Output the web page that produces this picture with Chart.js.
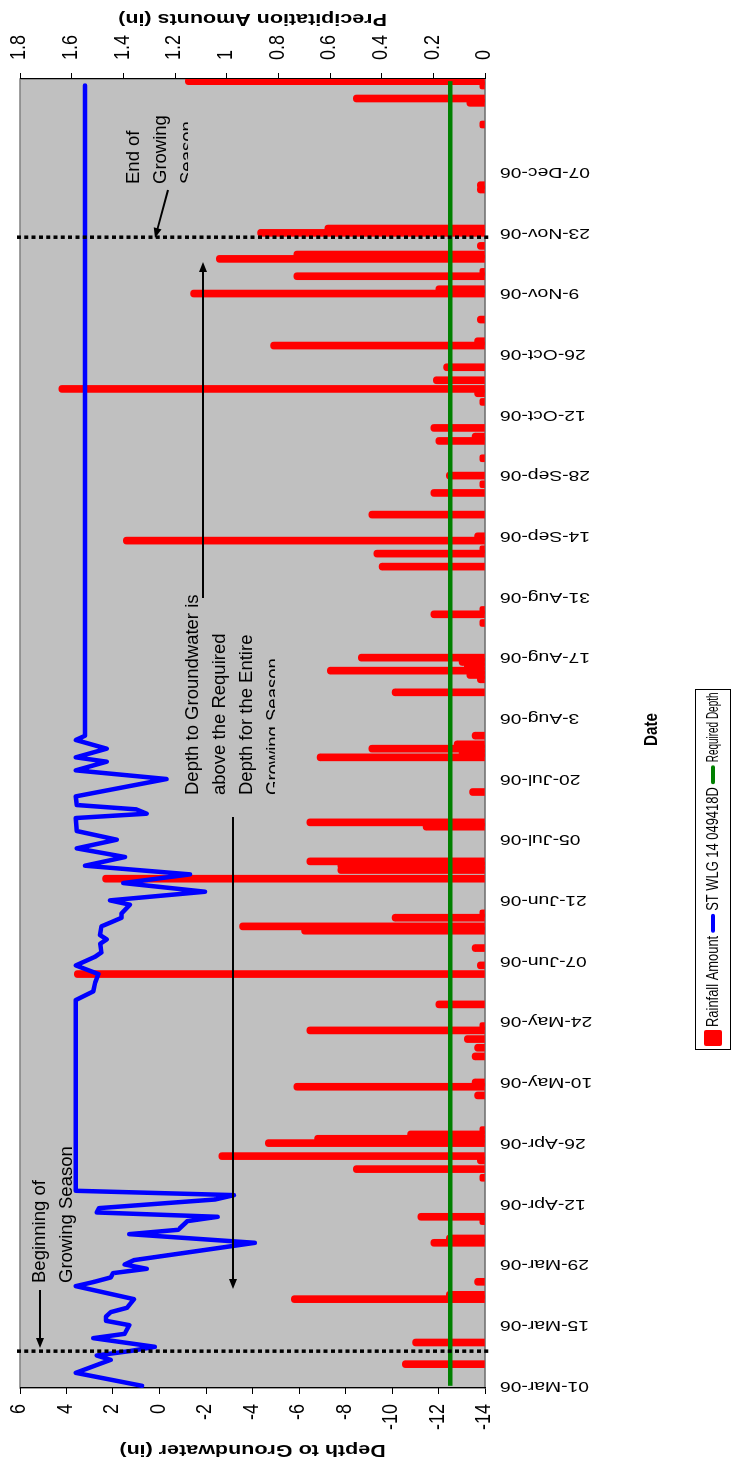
<!DOCTYPE html>
<html>
<head>
<meta charset="utf-8">
<title>ST WLG 14 - Depth to Groundwater and Rainfall 2006</title>
<script src="https://cdn.jsdelivr.net/npm/chart.js@4.4.1/dist/chart.umd.min.js"></script>
<style>
    html, body { margin: 0; padding: 0; background: #fff; overflow: hidden; }
    /* the chart is laid out landscape and turned a quarter turn to fit the page */
    #wrap { position: absolute; left: 0; top: 0; width: 1472px; height: 732px;
            transform-origin: 0 0; transform: translateY(1472px) rotate(-90deg); }
    #gwChart { display: block; }
</style>
</head>
<body>
<div id="wrap"><canvas id="gwChart" width="1472" height="732"></canvas></div>
<script>
var FONT = '"Liberation Sans", Arial, sans-serif';

// daily categories, no record for 13-Jul
var lastDay = '28-Dec-06';
var missingDay = '13-Jul-06';
var tickEvery = 14;
var tickLabels = ['01-Mar-06', '15-Mar-06', '29-Mar-06', '12-Apr-06', '26-Apr-06', '10-May-06',
    '24-May-06', '07-Jun-06', '21-Jun-06', '05-Jul-06', '20-Jul-06', '3-Aug-06', '17-Aug-06',
    '31-Aug-06', '14-Sep-06', '28-Sep-06', '12-Oct-06', '26-Oct-06', '9-Nov-06', '23-Nov-06', '07-Dec-06'];

// rainfall (in)
var rainDates = ['06-Mar-06', '11-Mar-06', '21-Mar-06', '22-Mar-06', '25-Mar-06',
    '03-Apr-06', '04-Apr-06', '08-Apr-06', '09-Apr-06', '18-Apr-06', '20-Apr-06', '22-Apr-06',
    '23-Apr-06', '26-Apr-06', '27-Apr-06', '28-Apr-06', '29-Apr-06',
    '07-May-06', '09-May-06', '10-May-06', '16-May-06', '18-May-06', '20-May-06', '22-May-06',
    '23-May-06', '28-May-06',
    '04-Jun-06', '06-Jun-06', '10-Jun-06', '14-Jun-06', '15-Jun-06', '17-Jun-06', '18-Jun-06',
    '26-Jun-06', '28-Jun-06', '29-Jun-06', '30-Jun-06',
    '08-Jul-06', '09-Jul-06', '17-Jul-06', '25-Jul-06', '26-Jul-06', '27-Jul-06', '28-Jul-06', '30-Jul-06',
    '09-Aug-06', '12-Aug-06', '13-Aug-06', '14-Aug-06', '15-Aug-06', '16-Aug-06', '17-Aug-06',
    '25-Aug-06', '27-Aug-06', '28-Aug-06',
    '07-Sep-06', '10-Sep-06', '11-Sep-06', '13-Sep-06', '14-Sep-06', '19-Sep-06', '24-Sep-06',
    '26-Sep-06', '28-Sep-06',
    '02-Oct-06', '06-Oct-06', '07-Oct-06', '09-Oct-06', '15-Oct-06', '17-Oct-06', '18-Oct-06',
    '20-Oct-06', '23-Oct-06', '28-Oct-06', '29-Oct-06',
    '03-Nov-06', '09-Nov-06', '10-Nov-06', '13-Nov-06', '14-Nov-06', '17-Nov-06', '18-Nov-06',
    '20-Nov-06', '23-Nov-06', '24-Nov-06',
    '03-Dec-06', '04-Dec-06', '18-Dec-06', '23-Dec-06', '24-Dec-06', '27-Dec-06', '28-Dec-06'];
var rainAmounts = [0.32, 0.28, 0.75, 0.15, 0.04,
    0.21, 0.15, 0.02, 0.26, 0.02, 0.51, 0.03,
    1.03, 0.85, 0.66, 0.30, 0.02,
    0.04, 0.74, 0.05, 0.05, 0.04, 0.08, 0.69,
    0.02, 0.19,
    1.59, 0.03, 0.05, 0.71, 0.95, 0.36, 0.02,
    1.48, 0.57, 0.57, 0.69,
    0.24, 0.69, 0.06, 0.65, 0.10, 0.45, 0.12, 0.05,
    0.36, 0.03, 0.07, 0.61, 0.08, 0.10, 0.49,
    0.02, 0.21, 0.02,
    0.41, 0.43, 0.02, 1.40, 0.04, 0.45, 0.21,
    0.02, 0.15,
    0.02, 0.19, 0.05, 0.21, 0.02, 0.04, 1.65,
    0.20, 0.16, 0.83, 0.04,
    0.03, 1.14, 0.19, 0.74, 0.02, 1.04, 0.74,
    0.03, 0.88, 0.62,
    0.03, 0.03, 0.02, 0.07, 0.51, 0.02, 1.16];

// well readings, depth to groundwater (in)
var gwDates = ['01-Mar-06', '04-Mar-06', '06-Mar-06', '07-Mar-06', '08-Mar-06', '09-Mar-06',
    '10-Mar-06', '12-Mar-06', '13-Mar-06', '15-Mar-06', '16-Mar-06', '17-Mar-06', '18-Mar-06',
    '19-Mar-06', '21-Mar-06', '24-Mar-06', '25-Mar-06', '26-Mar-06', '27-Mar-06', '28-Mar-06',
    '29-Mar-06', '30-Mar-06', '03-Apr-06', '05-Apr-06', '06-Apr-06', '08-Apr-06', '09-Apr-06',
    '10-Apr-06', '11-Apr-06', '13-Apr-06', '14-Apr-06', '15-Apr-06',
    '29-May-06', '31-May-06', '02-Jun-06', '04-Jun-06', '06-Jun-06', '08-Jun-06', '09-Jun-06',
    '11-Jun-06', '12-Jun-06', '13-Jun-06', '15-Jun-06', '16-Jun-06', '17-Jun-06', '18-Jun-06',
    '20-Jun-06', '21-Jun-06', '23-Jun-06', '25-Jun-06', '27-Jun-06', '29-Jun-06',
    '01-Jul-06', '03-Jul-06', '05-Jul-06', '07-Jul-06', '10-Jul-06', '11-Jul-06', '12-Jul-06',
    '14-Jul-06', '16-Jul-06', '20-Jul-06', '22-Jul-06', '24-Jul-06', '25-Jul-06', '27-Jul-06',
    '29-Jul-06', '30-Jul-06', '27-Dec-06'];
var gwDepths = [0.75, 3.6, 2.6, 2.1, 2.7, 1.3,
    0.2, 2.85, 1.5, 1.3, 2.3, 2.3, 2.1,
    1.4, 1.1, 3.6, 2.8, 2.1, 2.0, 0.55,
    1.5, 1.1, -4.1, 1.3, -0.8, -1.2, -2.5,
    2.7, 2.6, -2.4, -3.2, 3.6,
    3.6, 2.85, 2.77, 2.63, 3.6, 2.77, 2.5,
    2.55, 2.27, 2.56, 2.5, 2.06, 1.63, 1.63,
    1.27, 2.13, -1.96, 1.56, -1.31, 3.2,
    1.48, 3.56, 1.84, 3.56, 3.6, 0.55, 1.0,
    3.56, 3.6, -0.3, 3.6, 2.27, 3.6, 2.27,
    3.6, 3.2, 3.2];

var requiredDepth = -12.5;
var seasonStart = '09-Mar-06';
var seasonEnd = '22-Nov-06';

var monthNames = ['Jan', 'Feb', 'Mar', 'Apr', 'May', 'Jun', 'Jul', 'Aug', 'Sep', 'Oct', 'Nov', 'Dec'];
function dayLabel(d) {
    var dd = d.getUTCDate();
    return (dd < 10 ? '0' : '') + dd + '-' + monthNames[d.getUTCMonth()] + '-06';
}
var dates = [];
var day = new Date(Date.UTC(2006, 2, 1));
while (true) {
    var s = dayLabel(day);
    if (s !== missingDay) dates.push(s);
    if (s === lastDay) break;
    day.setUTCDate(day.getUTCDate() + 1);
}

function pairs(xs, ys) {
    return xs.map(function (x, i) { return { x: x, y: ys[i] }; });
}

// text squeezed or widened along one direction
function drawText(ctx, text, x, y, rot, sx, sy, maxWidth) {
    ctx.save();
    ctx.translate(x, y);
    if (rot) ctx.rotate(rot);
    ctx.scale(sx, sy);
    if (maxWidth) ctx.fillText(text, 0, 0, maxWidth / sx);
    else ctx.fillText(text, 0, 0);
    ctx.restore();
}

function drawArrow(ctx, x1, y1, x2, y2) {
    var ang = Math.atan2(y2 - y1, x2 - x1);
    var len = 10, half = 4;
    ctx.beginPath();
    ctx.moveTo(x1, y1);
    ctx.lineTo(x2 - Math.cos(ang) * len * 0.8, y2 - Math.sin(ang) * len * 0.8);
    ctx.stroke();
    ctx.beginPath();
    ctx.moveTo(x2, y2);
    ctx.lineTo(x2 - Math.cos(ang) * len - Math.sin(ang) * half, y2 - Math.sin(ang) * len + Math.cos(ang) * half);
    ctx.lineTo(x2 - Math.cos(ang) * len + Math.sin(ang) * half, y2 - Math.sin(ang) * len - Math.cos(ang) * half);
    ctx.closePath();
    ctx.fill();
}

var notes = [
    { lines: ['Beginning of', 'Growing Season'], x: 189, y: 40, clipBottom: null },
    { lines: ['End of', 'Growing', 'Season'], x: 1288, y: 134, clipBottom: 188 },
    { lines: ['Depth to Groundwater is', 'above the Required', 'Depth for the Entire', 'Growing Season'],
      x: 677, y: 193, clipBottom: 275 }
];
var arrows = [
    [182, 40, 124, 40],
    [1282, 168, 1234, 155],
    [655, 233, 183, 233],
    [874, 203, 1210, 203]
];

var plotBackground = {
    id: 'plotBackground',
    beforeDraw: function (chart) {
        var a = chart.chartArea, ctx = chart.ctx;
        ctx.save();
        ctx.fillStyle = '#c0c0c0';
        ctx.fillRect(a.left, a.top, a.right - a.left, a.bottom - a.top);
        ctx.strokeStyle = '#808080';
        ctx.lineWidth = 1.5;
        ctx.strokeRect(a.left, a.top, a.right - a.left, a.bottom - a.top);
        ctx.restore();
    }
};

var overlay = {
    id: 'overlay',
    afterDatasetsDraw: function (chart) {
        var ctx = chart.ctx, a = chart.chartArea, x = chart.scales.x;
        ctx.save();
        // growing season limits
        ctx.strokeStyle = '#000';
        ctx.lineWidth = 3.5;
        ctx.setLineDash([4, 3.3]);
        [seasonStart, seasonEnd].forEach(function (d) {
            var px = x.getPixelForValue(dates.indexOf(d));
            ctx.beginPath();
            ctx.moveTo(px, a.top - 3);
            ctx.lineTo(px, a.bottom + 5);
            ctx.stroke();
        });
        ctx.setLineDash([]);

        ctx.lineWidth = 2;
        ctx.fillStyle = '#000';
        arrows.forEach(function (ar) { drawArrow(ctx, ar[0], ar[1], ar[2], ar[3]); });

        ctx.font = '18.5px ' + FONT;
        ctx.textAlign = 'left';
        ctx.textBaseline = 'middle';
        notes.forEach(function (n) {
            ctx.save();
            if (n.clipBottom) {
                ctx.beginPath();
                ctx.rect(n.x - 5, a.top, 400, n.clipBottom - a.top);
                ctx.clip();
            }
            n.lines.forEach(function (t, i) { ctx.fillText(t, n.x, n.y + i * 27); });
            ctx.restore();
        });
        ctx.restore();
    },
    afterDraw: function (chart) {
        var ctx = chart.ctx, a = chart.chartArea;
        var x = chart.scales.x, depth = chart.scales.depth, precip = chart.scales.precip;
        ctx.save();
        ctx.fillStyle = '#000';

        // value axis labels
        ctx.font = '22.5px ' + FONT;
        ctx.textBaseline = 'middle';
        ctx.textAlign = 'right';
        depth.ticks.forEach(function (t) {
            drawText(ctx, String(t.value), a.left - 16, depth.getPixelForValue(t.value) - 1, 0, 0.8, 1);
        });
        ctx.textAlign = 'left';
        precip.ticks.forEach(function (t) {
            drawText(ctx, String(+t.value.toFixed(1)), a.right + 19, precip.getPixelForValue(t.value) - 1, 0, 0.8, 1);
        });

        // date labels
        ctx.font = '19.3px ' + FONT;
        ctx.textAlign = 'right';
        for (var i = 0; i < dates.length; i += tickEvery) {
            var lbl = tickLabels[i / tickEvery];
            if (!lbl) continue;
            drawText(ctx, lbl, x.getPixelForValue(i), a.bottom + 15, -Math.PI / 2, 1, 0.8);
        }

        // axis titles
        ctx.textAlign = 'center';
        ctx.font = 'bold 21.5px ' + FONT;
        var midY = (a.top + a.bottom) / 2;
        drawText(ctx, 'Depth to Groundwater (in)', 22, midY, -Math.PI / 2, 1, 0.8);
        drawText(ctx, 'Precipitation Amounts (in)', 1453, midY, -Math.PI / 2, 1, 0.8);
        ctx.font = 'bold 19px ' + FONT;
        drawText(ctx, 'Date', (a.left + a.right) / 2 + 4, 652, 0, 0.8, 1);

        // legend
        var box = { left: 422.5, top: 695.5, width: 360, height: 35 };
        ctx.strokeStyle = '#000';
        ctx.lineWidth = 1;
        ctx.strokeRect(box.left, box.top, box.width, box.height);
        ctx.font = '17px ' + FONT;
        ctx.textAlign = 'left';
        var squeeze = 0.76;
        var lx = 426, ly = 713;
        var boxRight = box.left + box.width - 3;
        chart.data.datasets.forEach(function (ds) {
            if (ds.type === 'bar') {
                ctx.fillStyle = ds.backgroundColor;
                ctx.beginPath();
                ctx.roundRect(lx, ly - 9, 16, 18, 2);
                ctx.fill();
                lx += 19;
            } else {
                ctx.strokeStyle = ds.borderColor;
                ctx.lineWidth = 4;
                ctx.lineCap = 'round';
                ctx.beginPath();
                ctx.moveTo(lx + 2, ly);
                ctx.lineTo(lx + 17, ly);
                ctx.stroke();
                lx += 22;
            }
            ctx.fillStyle = '#000';
            var w = Math.min(ctx.measureText(ds.label).width * squeeze, boxRight - lx);
            drawText(ctx, ds.label, lx, ly, 0, squeeze, 1, w);
            lx += w + 3;
        });
        ctx.restore();
    }
};

var ctx = document.getElementById('gwChart').getContext('2d');
new Chart(ctx, {
    type: 'bar',
    data: {
        labels: dates,
        datasets: [{
            type: 'bar',
            label: 'Rainfall Amount',
            data: pairs(rainDates, rainAmounts),
            yAxisID: 'precip',
            backgroundColor: '#ff0000',
            barThickness: 7,
            borderRadius: 3.5,
            borderSkipped: 'start',
            order: 3
        }, {
            type: 'line',
            label: 'ST WLG 14 049418D',
            data: pairs(gwDates, gwDepths),
            yAxisID: 'depth',
            borderColor: '#0000ff',
            borderWidth: 4.5,
            pointRadius: 0,
            tension: 0,
            borderCapStyle: 'round',
            borderJoinStyle: 'round',
            order: 1
        }, {
            type: 'line',
            label: 'Required Depth',
            data: [{ x: dates[0], y: requiredDepth }, { x: dates[dates.length - 1], y: requiredDepth }],
            yAxisID: 'depth',
            borderColor: '#008000',
            borderWidth: 4.5,
            pointRadius: 0,
            order: 2
        }]
    },
    options: {
        responsive: false,
        animation: false,
        devicePixelRatio: 1,
        layout: { padding: { top: 20 } },
        plugins: { legend: { display: false }, tooltip: { enabled: false } },
        scales: {
            x: {
                type: 'category',
                offset: true,
                grid: { display: false, drawTicks: false },
                border: { display: true, color: '#808080', width: 1.5 },
                ticks: { display: false },
                afterFit: function (s) { s.height = 247; }
            },
            depth: {
                position: 'left',
                min: -14,
                max: 6,
                ticks: { stepSize: 2, display: false },
                grid: { drawOnChartArea: false, drawTicks: true, tickLength: 6, color: '#000' },
                border: { color: '#000', width: 1 },
                afterFit: function (s) { s.width = 84; }
            },
            precip: {
                position: 'right',
                min: 0,
                max: 1.8,
                ticks: { stepSize: 0.2, display: false },
                grid: { drawOnChartArea: false, drawTicks: true, tickLength: 6, color: '#000' },
                border: { color: '#000', width: 1 },
                afterFit: function (s) { s.width = 79; }
            }
        }
    },
    plugins: [plotBackground, overlay]
});
</script>
</body>
</html>
